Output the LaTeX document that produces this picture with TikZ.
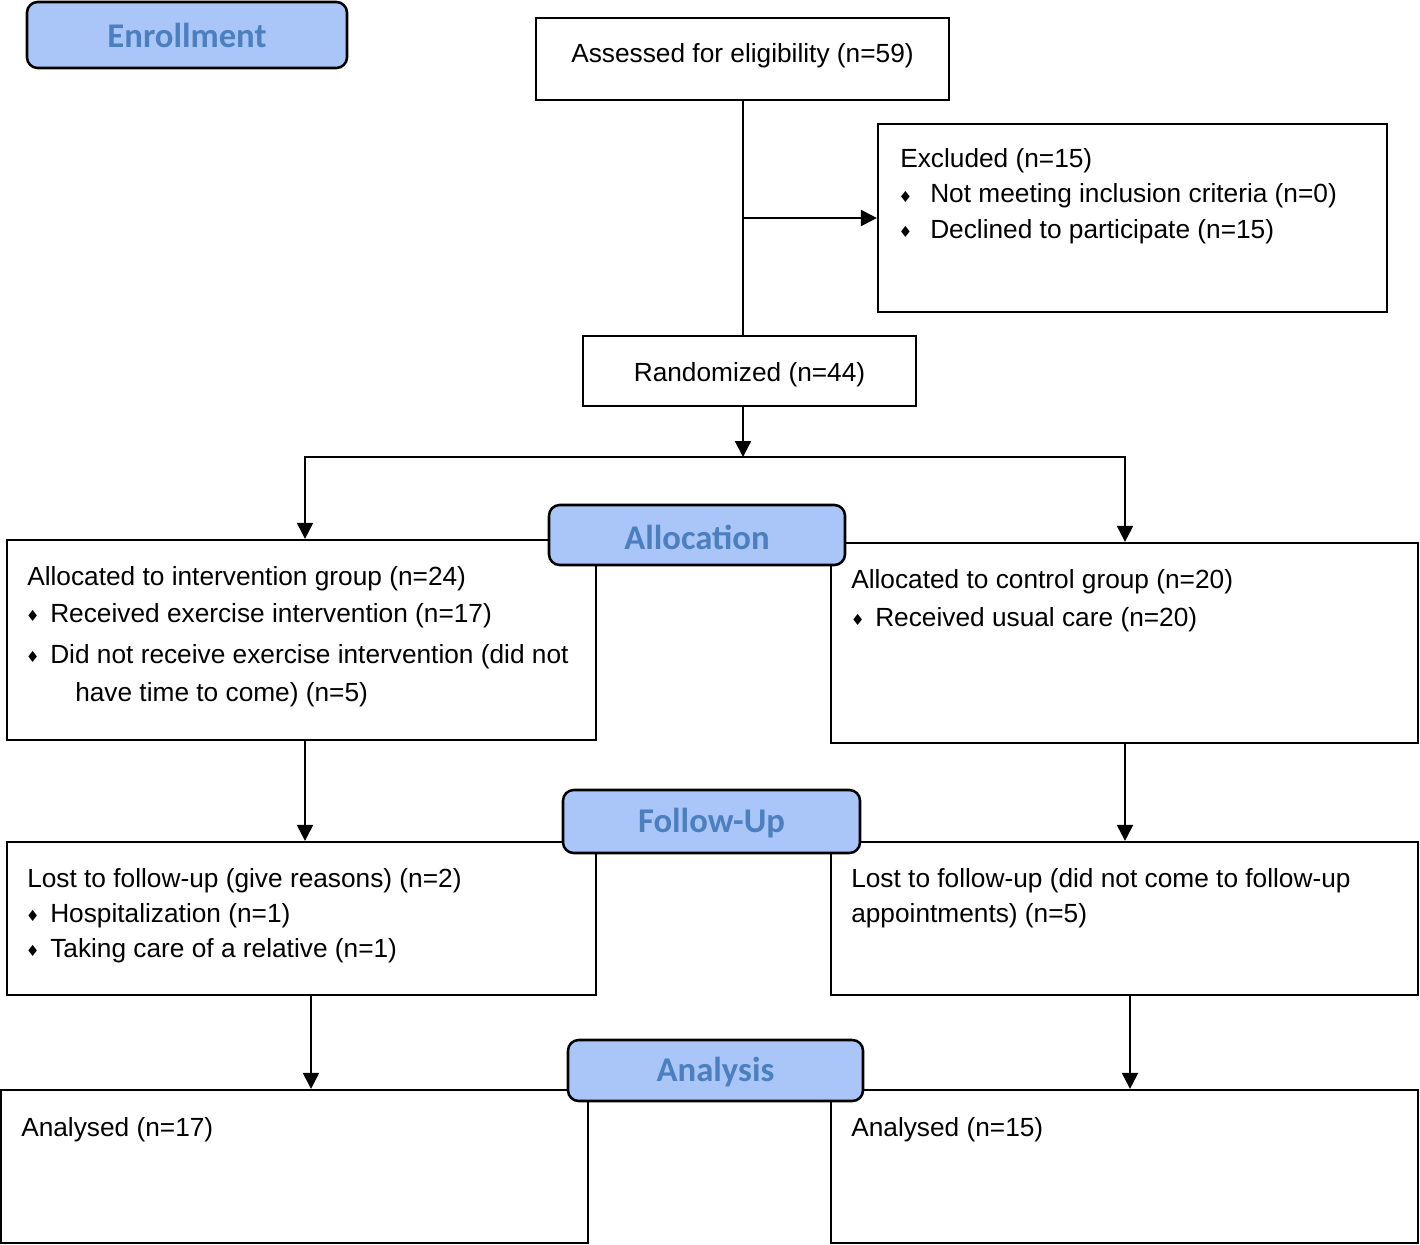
\documentclass[tikz,border=0pt]{standalone}
\usepackage{fontspec}
\setmainfont{Liberation Sans}
\newfontfamily\hdrfont{Carlito}
\newfontfamily\symfont{DejaVu Sans}
\usetikzlibrary{arrows.meta,fit}
\definecolor{hdrfill}{RGB}{170,198,248}
\definecolor{hdrtext}{RGB}{76,127,190}
\newcommand\bul[1]{\llap{\raisebox{0.5pt}{\symfont\fontsize{11.5}{11.5}\selectfont ♦}\hspace{#1}}}
\begin{document}
\begin{tikzpicture}[x=0.75pt,y=-0.75pt,
 box/.style={draw,line width=1.7pt,inner sep=0pt},
 hdr/.style={draw,line width=1.9pt,rounded corners=8pt,fill=hdrfill,inner sep=0pt},
 hdrlabel/.style={font=\hdrfont\bfseries\fontsize{26}{30}\selectfont,text=hdrtext,inner sep=0pt},
 txt/.style={anchor=base west,inner sep=0pt,font=\fontsize{19.7}{23}\selectfont},
 ctxt/.style={anchor=base,inner sep=0pt,font=\fontsize{19.7}{23}\selectfont},
 arr/.style={line width=1.7pt,-{Triangle[length=12pt,width=12pt]}},
 ln/.style={line width=1.7pt}]
\useasboundingbox (0,0) rectangle (1420,1245);
% boxes
\node[box,fit={(536,18)(949,100)}] (assess) {};
\node[box,fit={(878,124)(1387,312)}] (excl) {};
\node[box,fit={(583,336)(916,406)}] (random) {};
\node[box,fit={(7,540)(596,740)}] (allocL) {};
\node[box,fit={(831,543)(1418,743)}] (allocR) {};
\node[box,fit={(7,842)(596,995)}] (followL) {};
\node[box,fit={(831,842)(1418,995)}] (followR) {};
\node[box,fit={(1,1090)(588,1243)}] (anaL) {};
\node[box,fit={(831,1090)(1418,1243)}] (anaR) {};
% connectors
\coordinate (branch) at (743,218);
\coordinate (split) at (743,457);
\coordinate (colL) at (305,457);
\coordinate (colR) at (1125,457);
\coordinate (colL2) at (311,995);
\coordinate (colR2) at (1130,995);
\draw[ln] (assess.south -| branch) -- (random.north -| branch);
\draw[arr] (branch) -- (branch -| excl.west);
\draw[arr] (random.south -| split) -- (split);
\draw[ln,line cap=rect] (colL) -- (colR);
\draw[arr] (colL) -- (colL |- allocL.north);
\draw[arr] (colR) -- (colR |- allocR.north);
\draw[arr] (allocL.south -| colL) -- (followL.north -| colL);
\draw[arr] (allocR.south -| colR) -- (followR.north -| colR);
\draw[arr] (colL2) -- (colL2 |- anaL.north);
\draw[arr] (colR2) -- (colR2 |- anaR.north);
% headers
\node[hdr,fit={(27,2)(347,68)}] (enroll) {};
\node[hdrlabel] (enrollT) at (enroll.center) {Enrollment};
\node[hdr,fit={(549,505)(845,565)}] (alloc) {};
\node[hdrlabel] (allocT) at ([yshift=-1.5pt]alloc.center) {Allocation};
\node[hdr,fit={(563,790)(860,853)}] (follow) {};
\node[hdrlabel] (followT) at ([yshift=-1.5pt]follow.center) {Follow-Up};
\node[hdr,fit={(568,1040)(863,1101)}] (ana) {};
\node[hdrlabel] (anaT) at ([yshift=-1pt]ana.center) {Analysis};
% texts
\node[ctxt] (assessT) at (742.5,63) {Assessed for eligibility (n=59)};
\node[txt] (exT1) at (900,168) {Excluded (n=15)};
\node[txt] (exT2) at (930,203) {\bul{13.5pt}Not meeting inclusion criteria (n=0)};
\node[txt] (exT3) at (930,238) {\bul{13.5pt}Declined to participate (n=15)};
\node[ctxt] (randomT) at (749.5,381) {Randomized (n=44)};
\node[txt] (aLT1) at (27,585) {Allocated to intervention group (n=24)};
\node[txt] (aLT2) at (50,622) {\bul{8pt}Received exercise intervention (n=17)};
\node[txt] (aLT3) at (50,663) {\bul{8pt}Did not receive exercise intervention (did not};
\node[txt] (aLT4) at (75,701) {have time to come) (n=5)};
\node[txt] (aRT1) at (851,588) {Allocated to control group (n=20)};
\node[txt] (aRT2) at (875,626) {\bul{8pt}Received usual care (n=20)};
\node[txt] (fLT1) at (27,887) {Lost to follow-up (give reasons) (n=2)};
\node[txt] (fLT2) at (50,922) {\bul{8pt}Hospitalization (n=1)};
\node[txt] (fLT3) at (50,957) {\bul{8pt}Taking care of a relative (n=1)};
\node[txt] (fRT1) at (851,887) {Lost to follow-up (did not come to follow-up};
\node[txt] (fRT2) at (851,922) {appointments) (n=5)};
\node[txt] (anLT) at (21,1136) {Analysed (n=17)};
\node[txt] (anRT) at (851,1136) {Analysed (n=15)};
\end{tikzpicture}
\end{document}
